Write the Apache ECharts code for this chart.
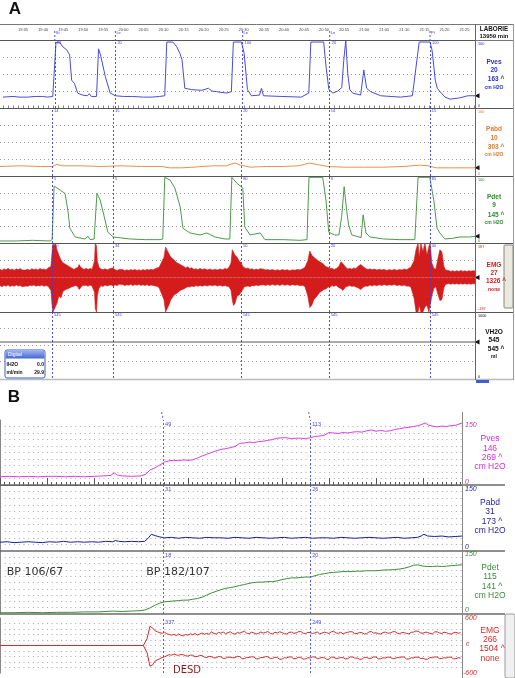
<!DOCTYPE html>
<html><head><meta charset="utf-8">
<script src="https://cdn.jsdelivr.net/npm/echarts@6/dist/echarts.min.js"></script>
<style>html,body{margin:0;padding:0;background:#fff}#c{width:515px;height:678px}</style>
</head><body><div id="c"></div>
<script>
// ================= DATA =================
// Panel A: time in minutes after 19:30
const timeTicksA = ['19:30','19:35','19:40','19:45','19:50','19:55','20:00','20:05','20:10','20:15','20:20','20:25','20:30','20:35','20:40','20:45','20:50','20:55','21:00','21:05','21:10','21:15','21:20','21:25'];
const eventsA = [12.9, 28.0, 59.7, 81.4, 106.4];
const eventTagsA = ['St','Le','Le','Le','Pt'];
const cursorPvesA = ['96','20','100','20','100'];
const cursorPabdA = ['14','15','20','14','15'];
const cursorPdetA = ['5','5','80','6','85'];
const cursorEmgA = ['30','34','50','20','40'];
const cursorVolA = ['545','545','545','545','545'];

const pvesA = [[0,16],[2.5,17],[4,16],[6.2,16],[8,17],[9.9,17],[11,16],[12.4,17],[12.8,18],[13.2,96],[14.1,97],[14.9,90],[15.8,86],[16.6,78],[17.1,41],[17.8,36],[18.6,22],[19.8,19],[21.0,18],[21.5,21],[22.0,17],[23.3,17],[23.8,87],[24.3,78],[25.5,46],[26.7,22],[28.0,18],[30,17],[32.2,17],[35,16],[37.1,16],[39,17],[40.3,18],[40.8,97],[42.3,97],[43.3,90],[44.1,80],[44.6,71],[45.3,29],[47.0,27],[49.5,26],[51.2,29],[52.0,25],[53.2,24],[55.7,22],[56.9,24],[57.4,97],[59.4,97],[60.1,80],[60.9,27],[61.9,18],[63.9,19],[64.4,29],[64.9,18],[69.3,17],[74.3,16],[76.2,22],[76.7,97],[79.9,97],[80.5,60],[81.2,27],[82.2,22],[83.4,25],[84.4,30],[84.9,70],[85.4,99],[85.9,50],[86.4,27],[87.1,22],[89.1,19],[89.9,56],[90.6,29],[91.6,24],[94.1,18],[99.0,16],[102.0,18],[103.7,97],[106.4,97],[106.9,85],[107.7,41],[108.2,29],[108.9,24],[110.1,16],[111.4,13],[113.9,15],[115.8,18],[117.6,18]];
const pabdA = [[0,14],[5,15],[10,14],[12.9,14],[14.1,17],[15.5,15],[20,15],[25,14],[30,15],[35,14],[40,14],[42,12],[45,12],[48,13],[50,14],[53,15],[56,15],[57.4,18],[58.2,19],[59.5,16],[62,13],[66,14],[70,14],[74,15],[76.5,19],[78.5,17],[81,14],[85,13],[90,13],[95,13],[100,14],[102,15],[104,16],[106,15],[108,12],[112,12],[117.6,12]];
const pdetA = [[0,3],[4,3],[8,4],[12.4,3],[12.9,5],[13.4,85],[14.9,79],[16.1,74],[16.8,49],[17.3,22],[18.6,9],[21.0,6],[21.8,10],[22.3,5],[23.3,6],[24.0,74],[24.8,64],[25.7,42],[26.7,16],[28.0,9],[32.2,6],[36,5],[39.6,5],[40.3,6],[40.8,98],[42.1,94],[43.3,82],[44.6,54],[45.3,22],[47.0,15],[49.5,12],[51.2,15],[53.2,9],[55.7,6],[56.9,6],[57.4,98],[58.7,89],[60.1,82],[60.6,24],[61.9,12],[64.4,15],[65.6,5],[70,5],[74.3,4],[76.0,5],[76.5,98],[79.9,98],[80.7,64],[81.4,16],[82.9,12],[83.9,12],[84.6,40],[85.2,84],[85.8,50],[86.3,27],[87.1,12],[89.4,8],[89.9,42],[90.6,15],[91.6,9],[95,6],[99.0,5],[102.7,5],[103.5,98],[106.4,98],[107.4,64],[108.2,22],[108.9,15],[110.1,6],[112,7],[113.9,9],[116.3,9],[117.6,10]];
// EMG envelope [t, upper, lower]
const emgA = [[0,45,-44],[0.5,38,-50],[1.0,48,-42],[1.5,41,-47],[2.0,50,-40],[2.5,40,-49],[3.0,46,-43],[3.5,39,-48],[4.0,47,-40],[4.5,42,-46],[5.0,49,-44],[5.5,40,-50],[5.9,47,-41],[6.4,41,-46],[6.9,45,-48],[7.4,39,-42],[7.9,48,-45],[8.4,42,-40],[8.9,46,-47],[9.4,40,-43],[9.9,49,-46],[10.4,43,-41],[10.9,46,-48],[11.4,41,-44],[11.9,52,-47],[12.6,60,-70],[12.9,140,-150],[13.1,187,-187],[13.5,170,-187],[13.7,187,-160],[14.1,150,-140],[14.6,120,-100],[15.1,95,-110],[15.6,80,-75],[16.3,70,-65],[17.1,60,-58],[17.8,50,-50],[18.3,44,-47],[18.8,50,-43],[19.3,55,-52],[19.6,70,-65],[20.0,55,-60],[20.4,47,-44],[20.8,43,-50],[21.3,50,-42],[21.8,44,-47],[22.3,49,-41],[22.8,45,-48],[23.4,90,-80],[23.6,187,-170],[23.9,170,-187],[24.1,90,-100],[24.5,55,-60],[25.0,46,-44],[25.5,42,-49],[26.0,48,-40],[26.5,41,-46],[27.0,46,-42],[27.5,50,-40],[28.0,52,-46],[28.5,42,-40],[29.0,38,-44],[29.5,44,-37],[29.9,39,-42],[30.4,43,-38],[30.9,37,-44],[31.4,42,-39],[31.9,38,-42],[32.4,43,-37],[32.9,39,-44],[33.4,44,-38],[33.9,38,-42],[34.4,42,-37],[34.9,37,-43],[35.4,43,-39],[35.9,39,-44],[36.4,44,-38],[36.9,40,-45],[37.4,45,-40],[37.9,41,-43],[38.4,48,-46],[38.9,52,-48],[39.4,55,-56],[39.8,62,-58],[40.6,110,-120],[41.0,165,-187],[41.3,150,-187],[41.8,130,-150],[42.3,110,-120],[43.1,95,-95],[43.8,80,-85],[44.6,70,-70],[45.5,60,-62],[46.0,52,-56],[46.5,58,-50],[47.0,49,-52],[47.5,53,-46],[48.0,44,-50],[48.5,48,-44],[49.0,42,-48],[49.5,49,-43],[50.1,43,-47],[50.7,47,-42],[51.3,41,-46],[52.0,46,-41],[52.6,40,-45],[53.2,45,-40],[53.8,41,-46],[54.5,46,-42],[55.1,42,-47],[55.7,49,-43],[56.2,45,-48],[56.7,55,-50],[57.2,80,-70],[57.5,150,-120],[57.8,155,-152],[58.2,120,-140],[58.7,110,-100],[59.2,90,-95],[59.7,80,-80],[60.1,60,-65],[60.5,55,-50],[60.9,48,-53],[61.4,52,-46],[61.9,44,-50],[62.4,48,-43],[62.9,41,-46],[63.4,46,-40],[63.9,42,-45],[64.4,48,-41],[64.8,41,-46],[65.3,45,-39],[65.8,40,-44],[66.3,44,-38],[66.8,39,-43],[67.4,43,-37],[68.1,38,-42],[68.7,42,-38],[69.3,38,-43],[69.9,43,-37],[70.5,39,-42],[71.1,42,-38],[71.8,37,-43],[72.4,42,-38],[73.0,39,-42],[73.6,44,-39],[74.3,41,-45],[74.9,47,-42],[75.5,55,-50],[76.2,90,-100],[76.7,144,-163],[77.2,120,-150],[77.7,110,-120],[78.5,95,-100],[79.2,85,-80],[80.2,70,-65],[80.7,58,-62],[81.2,55,-52],[81.7,47,-52],[82.2,50,-44],[82.7,44,-48],[83.2,48,-42],[83.9,60,-55],[84.4,85,-60],[84.9,75,-70],[85.6,55,-50],[86.1,46,-48],[86.6,50,-43],[87.1,45,-49],[87.6,52,-46],[88.1,48,-51],[88.6,60,-55],[89.3,70,-65],[90.1,55,-50],[90.6,48,-46],[91.1,44,-48],[91.6,47,-41],[92.1,42,-46],[92.7,46,-40],[93.3,40,-45],[93.9,45,-39],[94.5,41,-44],[95.1,44,-38],[95.8,38,-43],[96.4,43,-39],[97.0,39,-42],[97.6,44,-38],[98.3,39,-44],[98.9,44,-40],[99.5,40,-45],[100.1,46,-41],[100.7,42,-47],[101.2,50,-46],[101.7,55,-52],[102.5,90,-110],[103.0,150,-187],[103.5,187,-187],[103.8,110,-150],[104.2,187,-187],[104.7,140,-187],[105.2,187,-160],[105.7,120,-150],[106.2,170,-187],[106.5,187,-187],[106.9,80,-100],[107.4,50,-60],[107.9,45,-50],[108.4,100,-90],[108.9,150,-125],[109.4,140,-120],[109.9,60,-55],[110.3,40,-38],[110.6,33,-37],[111.1,38,-32],[111.6,33,-37],[112.1,37,-33],[112.6,32,-36],[113.1,37,-32],[113.6,33,-37],[114.1,38,-33],[114.6,33,-36],[115.1,37,-32],[115.6,32,-37],[116.1,37,-33],[116.6,34,-37],[117.1,37,-33],[117.6,35,-35]];
const volA = [[0,545],[117.6,545]];

const readPvesA = ['Pves','20','163 ^','cm H2O'];
const readPabdA = ['Pabd','10','303 ^','cm H2O'];
const readPdetA = ['Pdet','9','145 ^','cm H2O'];
const readEmgA = ['EMG','27','1326 ^','none'];
const readVolA = ['VH2O','545','545 ^','ml'];

// Panel B: time in seconds-like units
const eventsB = [34.7, 66.0];
const cursorPvesB = ['49','113'];
const cursorPabdB = ['31','26'];
const cursorPdetB = ['18','20'];
const cursorEmgB = ['337','249'];
const pvesB = [[0,19],[2,20],[4,19],[6,20],[8,19],[10,20],[12,20],[14,19],[16,20],[18,19],[20,20],[22,21],[23.5,22],[24.3,28],[25,23],[26,21],[28,20],[30,21],[31,25],[32,35],[33,40],[34,46],[35,53],[36,56],[37,57],[38,56],[39,58],[40,57],[41,58],[42,62],[43,67],[44,71],[45,75],[46,79],[47,82],[48,84],[49,86],[50,89],[51,96],[52,97],[53,99],[54,98],[55,100],[56,101],[57,103],[58,105],[59,108],[60,109],[61,109],[62,107],[63,108],[64,108],[65,107],[66,109],[67,112],[68,113],[69,115],[70,121],[71,120],[72,119],[73,121],[74,120],[75,122],[76,123],[77,122],[78,125],[79,127],[80,124],[81,126],[82,124],[83,125],[84,128],[85,130],[86,132],[87,133],[88,135],[89,137],[90,141],[90.5,143],[91.2,138],[92,136],[93,134],[94,136],[95,135],[96,137],[97,138],[98.3,143]];
const pabdB = [[0,20],[1.5,21],[3,19],[4.5,20],[6,21],[7.5,20],[9,19],[10.5,21],[12,20],[13.5,22],[15,20],[16.5,21],[18,20],[19.5,21],[21,20],[22.5,22],[24,21],[24.6,24],[25.2,22],[26.5,21],[28,22],[29.5,21],[30.8,22],[31.6,30],[32.2,38],[33,35],[34,32],[35,30],[36.5,31],[38,29],[39.5,31],[41,30],[42.5,29],[44,31],[45.5,30],[47,30],[48.5,29],[50,31],[51.5,30],[53,29],[54.5,31],[56,30],[57.5,29],[59,30],[60.5,31],[62,29],[63.5,30],[65,31],[66.5,29],[68,30],[69.5,30],[71,29],[72.5,31],[74,30],[75.5,29],[77,30],[78.5,31],[80,30],[81.5,29],[83,30],[84.5,31],[86,29],[87.5,30],[88.8,31],[89.6,34],[90.2,38],[91,34],[92.5,33],[94,34],[95.5,32],[97,33],[98.3,34]];
const pdetB = [[0,3],[3,3],[6,4],[9,3],[12,4],[15,4],[18,5],[21,5],[24,7],[26,6],[28,7],[30,8],[31,10],[32,15],[33,21],[34,26],[35,29],[36,30],[37,31],[38,32],[39,33],[40,33],[41,35],[42,37],[43,40],[44,45],[45,50],[46,54],[47,58],[48,61],[49,63],[50,65],[51,68],[52,70],[53,73],[54,75],[55,76],[56,76],[57,77],[58,77],[59,79],[60,82],[61,84],[62,86],[63,86],[64,87],[65,88],[66,88],[67,91],[68,94],[69,96],[70,98],[71,99],[72,100],[73,101],[74,101],[75,101],[76,102],[77,102],[78,103],[79,103],[80,103],[81,104],[82,105],[83,105],[84,106],[85,107],[86,109],[87,112],[88,116],[89,117],[90,114],[91,113],[92,113],[93,114],[94,113],[95,114],[96,115],[97,116],[98.3,117]];
// EMG (B): quiet part, onset, then sampled every 0.5 from 33.5
const emgB_head = [[0,0,0],[10,0,0],[20,0,0],[30.5,0,0],[31.3,150,-160],[31.9,420,-450],[32.5,380,-420],[33.0,320,-340]];
const emgB_t0 = 33.5, emgB_dt = 0.5;
const emgB_hi = [300,280,265,290,255,240,225,245,215,250,225,210,240,225,255,235,260,228,250,272,245,265,240,300,262,250,285,268,295,255,280,300,262,248,282,270,292,310,268,258,290,276,250,265,295,270,285,305,262,255,290,272,300,282,258,250,286,292,265,275,300,306,268,258,288,280,262,275,296,255,270,292,278,262,300,310,272,266,290,252,276,288,302,296,260,262,285,280,250,258,295,305,270,278,260,250,284,292,268,272,296,306,270,258,280,282,264,252,288,292,318,308,275,268,290,286,262,255,296,300,272,264,288,280,256,250,278,288,266,280];
const emgB_lo = [-310,-290,-262,-248,-222,-200,-212,-188,-205,-215,-196,-202,-225,-232,-208,-214,-245,-240,-218,-222,-255,-262,-236,-242,-272,-268,-240,-248,-282,-278,-250,-258,-268,-264,-238,-242,-288,-286,-258,-262,-246,-252,-292,-290,-262,-266,-242,-246,-282,-280,-256,-262,-302,-298,-266,-272,-248,-252,-288,-284,-256,-262,-296,-294,-266,-272,-248,-252,-282,-278,-262,-268,-302,-298,-252,-258,-282,-278,-262,-266,-292,-288,-248,-252,-276,-274,-302,-298,-258,-262,-282,-278,-248,-252,-292,-288,-268,-272,-252,-258,-286,-284,-262,-266,-248,-252,-296,-294,-268,-272,-252,-256,-282,-278,-302,-298,-262,-268,-248,-252,-286,-282,-268,-272,-252,-258,-292,-288,-266,-278];

const readPvesB = ['Pves','146','269 ^','cm H2O'];
const readPabdB = ['Pabd','31','173 ^','cm H2O'];
const readPdetB = ['Pdet','115','141 ^','cm H2O'];
const readEmgB = ['EMG','266','1504 ^','none'];
const notesB = ['BP 106/67','BP 182/107','DESD'];

// ================= CHART =================
const FONT = '"Liberation Sans", Arial, sans-serif';
const chart = echarts.init(document.getElementById('c'), null, {renderer:'canvas', width:515, height:678});

const A_T_MAX = 117.6, B_T_MAX = 98.3;
const gridA = [{top:40,height:68},{top:108,height:68},{top:176,height:67},{top:243,height:69},{top:312,height:66}];
const gridB = [{top:420,height:65},{top:485,height:66},{top:551,height:63},{top:618,height:55}];
const yA = [[0,100,25],[0,100,25],[0,100,25],[-187,187,93.5],[0,1000,250]];
const yB = [[0,150,15],[0,150,15],[0,150,15],[-600,600,120]];

const grids = [], xAxes = [], yAxes = [];
gridA.forEach((g,i)=>{
  grids.push({left:0, width:475, top:g.top, height:g.height, containLabel:false});
  xAxes.push({gridIndex:i, type:'value', min:0, max:A_T_MAX, interval:5, position:'top',
    show: true,
    axisLine:{show:i===0, lineStyle:{color:'#444', width:1}},
    axisTick:{show:i===0, length:2.5, lineStyle:{color:'#333', width:0.6}},
    minorTick:{show:i===0, splitNumber:4, length:2.5, lineStyle:{color:'#333', width:0.6}},
    axisLabel:{show:i===0, fontSize:4, margin:8, color:'#444', fontFamily:FONT,
      formatter:v=>{const k=Math.round(v/5); return k===0?'':(timeTicksA[k]||'');}},
    splitLine:{show:false}});
  yAxes.push({gridIndex:i, type:'value', min:yA[i][0], max:yA[i][1], interval:yA[i][2], position:'right',
    axisLine:{show:false}, axisTick:{show:false}, axisLabel:{show:false},
    splitLine:{show:true, showMinLine:false, showMaxLine:false, lineStyle:{color:'#9a9a9a', type:[1,3], width:1}}});
});
gridB.forEach((g,j)=>{
  const i = j+5;
  grids.push({left:0, width:462, top:g.top, height:g.height, containLabel:false});
  xAxes.push({gridIndex:i, type:'value', min:0, max:B_T_MAX, interval:10, position:'top',
    show: j===0,
    axisLine:{show:true, lineStyle:{color:'#666', width:1}},
    axisTick:{show:true, length:7, lineStyle:{color:'#555', width:1}},
    minorTick:{show:true, splitNumber:10, length:3, lineStyle:{color:'#555', width:1}},
    axisLabel:{show:false}, splitLine:{show:false}});
  yAxes.push({gridIndex:i, type:'value', min:yB[j][0], max:yB[j][1], interval:yB[j][2], position:'right',
    axisLine:{show:true, lineStyle:{color:'#888', width:1}},
    axisTick:{show:true, inside:true, length:3, lineStyle:{color:'#888'}},
    axisLabel:{show:false},
    splitLine:{show:true, showMinLine:false, showMaxLine:false, lineStyle:{color:'#a8a8a8', type:[1,3.7], width:1}}});
});

function eventLines(events, color){
  return {silent:true, symbol:['none','none'], label:{show:false}, animation:false,
    lineStyle:{color:color, type:[2,2], width:0.9}, data: events.map(t=>({xAxis:t}))};
}
function cursorMarks(events, labels, ymax, color, size, endPoint){
  const d = events.map((t,k)=>({coord:[t,ymax], symbol:'circle', symbolSize:0,
    label:{show:true, formatter:labels[k], position:[2,1], fontSize:size, color:color, fontFamily:FONT}}));
  if(endPoint) d.push({coord:endPoint, symbol:'triangle', symbolSize:[5,5], symbolRotate:90, symbolOffset:[2,0],
    itemStyle:{color:'#111'}, label:{show:false}});
  return {silent:true, animation:false, data:d};
}
const last = arr => arr[arr.length-1];
const emgBTimes = emgB_hi.map((_,k)=>emgB_t0 + k*emgB_dt);
const emgBHiData = emgB_head.map(d=>[d[0],d[1]]).concat(emgB_hi.map((v,k)=>[emgBTimes[k],v]));
const emgBLoData = emgB_head.map(d=>[d[0],d[2]]).concat(emgB_lo.map((v,k)=>[emgBTimes[k],v]));

const EVA = '#3b3bdc';
const EVB = '#4a4ae6';
const series = [
  {type:'line', xAxisIndex:0, yAxisIndex:0, data:pvesA, showSymbol:false, lineStyle:{color:'#4b4bd6', width:1},
    markLine:eventLines(eventsA, EVA), markPoint:cursorMarks(eventsA, cursorPvesA, 100, EVA, 4, last(pvesA))},
  {type:'line', xAxisIndex:1, yAxisIndex:1, data:pabdA, showSymbol:false, lineStyle:{color:'#e8904a', width:1},
    markLine:eventLines(eventsA, EVA), markPoint:cursorMarks(eventsA, cursorPabdA, 100, EVA, 4, last(pabdA))},
  {type:'line', xAxisIndex:2, yAxisIndex:2, data:pdetA, showSymbol:false, lineStyle:{color:'#4d9a4d', width:1},
    markLine:eventLines(eventsA, EVA), markPoint:cursorMarks(eventsA, cursorPdetA, 100, EVA, 4, last(pdetA))},
  {type:'line', xAxisIndex:3, yAxisIndex:3, data:emgA.map(d=>[d[0],d[1]]), showSymbol:false,
    lineStyle:{color:'#d41c1c', width:0.6}, areaStyle:{color:'#d41c1c', opacity:1, origin:0}, z:2},
  {type:'line', xAxisIndex:3, yAxisIndex:3, data:emgA.map(d=>[d[0],d[2]]), showSymbol:false,
    lineStyle:{color:'#d41c1c', width:0.6}, areaStyle:{color:'#d41c1c', opacity:1, origin:0}, z:2,
    markLine:eventLines(eventsA, EVA), markPoint:cursorMarks(eventsA, cursorEmgA, 187, EVA, 4, [A_T_MAX,0])},
  {type:'line', xAxisIndex:4, yAxisIndex:4, data:volA, showSymbol:false, lineStyle:{color:'#555', width:1},
    markLine:eventLines(eventsA, EVA), markPoint:cursorMarks(eventsA, cursorVolA, 1000, EVA, 4, last(volA))},
  // Panel B
  {type:'line', xAxisIndex:5, yAxisIndex:5, data:pvesB, showSymbol:false, lineStyle:{color:'#e03ce0', width:1},
    markLine:eventLines(eventsB, EVB), markPoint:cursorMarks(eventsB, cursorPvesB, 150, EVB, 5.5)},
  {type:'line', xAxisIndex:6, yAxisIndex:6, data:pabdB, showSymbol:false, lineStyle:{color:'#1c1ca0', width:1},
    markLine:eventLines(eventsB, EVB), markPoint:cursorMarks(eventsB, cursorPabdB, 150, EVB, 5.5)},
  {type:'line', xAxisIndex:7, yAxisIndex:7, data:pdetB, showSymbol:false, lineStyle:{color:'#3c8c3c', width:1},
    markLine:eventLines(eventsB, EVB), markPoint:cursorMarks(eventsB, cursorPdetB, 150, EVB, 5.5)},
  {type:'line', xAxisIndex:8, yAxisIndex:8, data:emgBHiData, showSymbol:false, lineStyle:{color:'#d42a2a', width:1}},
  {type:'line', xAxisIndex:8, yAxisIndex:8, data:emgBLoData, showSymbol:false, lineStyle:{color:'#d42a2a', width:1},
    markLine:eventLines(eventsB, EVB), markPoint:cursorMarks(eventsB, cursorEmgB, 600, EVB, 5.5)}
];

// ---------- decorations ----------
const G = [];
function T(x,y,text,color,size,bold,align,family,style){
  G.push({type:'text', x:x, y:y, silent:true, z:100, style:{text:text, fill:color,
    font:(style||'')+' '+(bold?'bold ':'')+size+'px '+(family||FONT),
    align:align||'center', textAlign:align||'center', verticalAlign:'middle', textVerticalAlign:'middle'}});
}
function L(x1,y1,x2,y2,color,w,dash){
  G.push({type:'line', silent:true, z:95, shape:{x1:x1,y1:y1,x2:x2,y2:y2}, style:{stroke:color, lineWidth:w||1, lineDash:dash||null}});
}
function R(x,y,w,h,fill,stroke,r){
  G.push({type:'rect', silent:true, z:96, shape:{x:x,y:y,width:w,height:h,r:r||0}, style:{fill:fill, stroke:stroke||null, lineWidth:stroke?1:0}});
}
T(15,9,'A','#111',17,true);
T(14,397,'B','#111',17,true);
// Panel A frame
L(0,24.5,513,24.5,'#777',1);
L(0,40.5,475,40.5,'#555',1);
L(475,40.5,513,40.5,'#777',1);
[108.5,176.5,243.5,312.5].forEach(y=>L(0,y,513,y,'#555',1.2));
L(0,379.5,513,379.5,'#bbb',1.5);
L(475.5,24,475.5,380,'#666',1);
L(513.5,24,513.5,380,'#999',1);
R(476,380,13,3,'#3d5fd0');
T(494,29,'LABORIE','#111',6.3,true);
T(494,36,'13959 min','#111',6,true);
function readout(lines, cx, ys, color, sizes, bold){
  lines.forEach((s,k)=>T(cx + (s.indexOf('^')>=0?2:0), ys[k], s, color, sizes[k], bold));
}
readout(readPvesA, 494, [62,70.5,79,88], '#3030c8', [6.5,6.5,6.5,5], true);
readout(readPabdA, 494, [129,138,147,155], '#e07a32', [6.5,6.5,6.5,5], true);
readout(readPdetA, 494, [197,205.5,215,223], '#2f8a2f', [6.5,6.5,6.5,5], true);
readout(readEmgA, 494, [265,273,281,290], '#d42020', [6.5,6.5,6.5,5], true);
readout(readVolA, 494, [332,340,349,357], '#111', [6.5,6.5,6.5,5], true);
T(478,43.5,'100','#3030c8',3.8,false,'left'); T(478,105.5,'0','#3030c8',3.8,false,'left');
T(478,111.5,'100','#e07a32',3.8,false,'left'); T(478,173.5,'0','#e07a32',3.8,false,'left');
T(478,179.5,'100','#2f8a2f',3.8,false,'left'); T(478,240.5,'0','#2f8a2f',3.8,false,'left');
T(478,246.5,'187','#d42020',3.8,false,'left'); T(478,309,'-187','#d42020',3.8,false,'left');
T(478,315.5,'1000','#111',3.8,false,'left'); T(478,376.5,'0','#111',3.8,false,'left');
R(504,245,9,63,'#ebe9df','#8a8a80',1);
L(507.5,250,507.5,304,'#777',1,[1,2]);
// Digital box
R(5,350,40,28,'#fff','#3d5fd0',2);
G.push({type:'rect', silent:true, z:97, shape:{x:5.5,y:350.5,width:39,height:8,r:[2,2,0,0]},
  style:{fill:new echarts.graphic.LinearGradient(0,0,0,1,[{offset:0,color:'#9ab2f0'},{offset:1,color:'#4566d2'}])}});
T(8,354.5,'Digital','#fff',5,false,'left');
T(6.5,365,'IH2O','#111',5,true,'left'); T(44,365,'0.0','#111',5,true,'right');
T(6.5,373,'ml/min','#111',5,true,'left'); T(44,373,'29.9','#111',5,true,'right');

// Panel B frame
[485,551,614].forEach(y=>L(0,y,505,y,'#6a6a6a',1.3));
L(462.5,412,462.5,678,'#888',1);
readout(readPvesB, 490, [439,449,458,467], '#d22cd8', [8.5,8.5,8.5,8.5], false);
readout(readPabdB, 490, [503,512,522,531], '#1e1e9c', [8.5,8.5,8.5,8.5], false);
readout(readPdetB, 490, [568,577,587,596], '#3a8a3a', [8.5,8.5,8.5,8.5], false);
readout(readEmgB, 490, [631,640,649,659], '#d42a2a', [8.5,8.5,8.5,8.5], false);
const IT = '"Liberation Sans"';
T(465,425,'150','#d22cd8',7,false,'left',IT,'italic');
T(465,482,'0','#d22cd8',7,false,'left',IT,'italic');
T(465,489,'150','#1e1e9c',7,false,'left',IT,'italic');
T(465,547,'0','#1e1e9c',7,false,'left',IT,'italic');
T(465,554,'150','#3a8a3a',7,false,'left',IT,'italic');
T(465,610,'0','#3a8a3a',7,false,'left',IT,'italic');
T(465,618,'600','#d42a2a',7,false,'left',IT,'italic');
T(466,644,'c','#d42a2a',7,false,'left',IT,'italic');
T(463,673,'-600','#d42a2a',7,false,'left',IT,'italic');
R(505,614,10,64,'#f0f0f0','#999',2);
L(508.5,620,508.5,664,'#777',1,[1,2]);
const DV = '"DejaVu Sans", Verdana, sans-serif';
T(35,572,notesB[0],'#333',11,false,'center',DV);
T(178,572,notesB[1],'#333',11,false,'center',DV);
T(187,670,notesB[2],'#8b1a1a',10,false,'center',DV);

chart.setOption({animation:false, textStyle:{fontFamily:FONT}, grid:grids, xAxis:xAxes, yAxis:yAxes, series:series, graphic:{elements:G}});

// event tags/extensions in the headers, placed via the axis scales
const extra = [];
eventsA.forEach((t,k)=>{
  const p = chart.convertToPixel({xAxisIndex:0, yAxisIndex:0}, [t,100]);
  extra.push({type:'text', x:p[0]+1, y:33, silent:true, z:100,
    style:{text:eventTagsA[k], fill:EVA, font:'4px '+FONT, align:'left', textAlign:'left', verticalAlign:'middle', textVerticalAlign:'middle'}});
  extra.push({type:'line', silent:true, z:99, shape:{x1:p[0],y1:31,x2:p[0],y2:40}, style:{stroke:EVA, lineWidth:0.9, lineDash:[2,2]}});
});
eventsB.forEach(t=>{
  const p = chart.convertToPixel({xAxisIndex:5, yAxisIndex:5}, [t,150]);
  extra.push({type:'line', silent:true, z:99, shape:{x1:p[0]-1.5,y1:412,x2:p[0],y2:420}, style:{stroke:EVB, lineWidth:0.9, lineDash:[2,2]}});
});
chart.setOption({graphic:{elements:G.concat(extra)}}, {replaceMerge:['graphic']});
</script></body></html>
